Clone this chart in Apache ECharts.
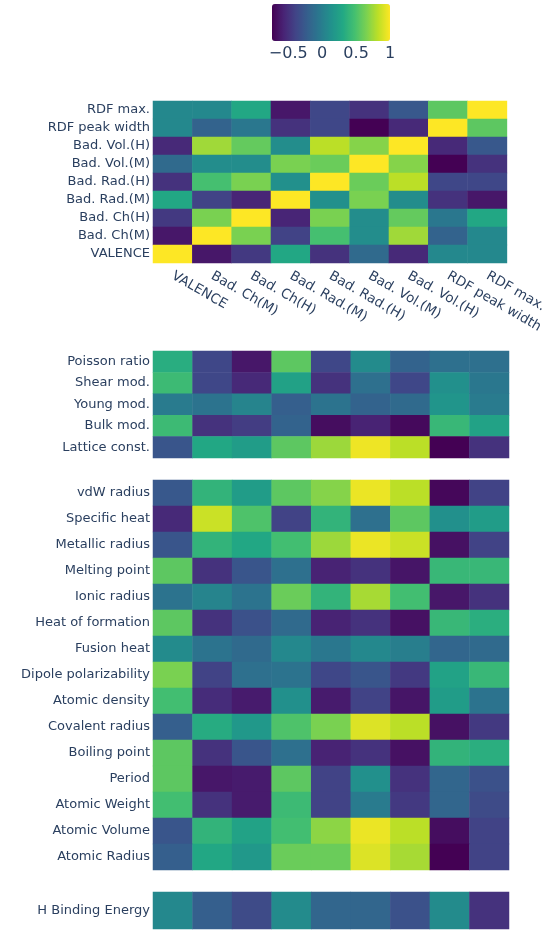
<!DOCTYPE html>
<html>
<head>
<meta charset="utf-8">
<script src="https://cdn.jsdelivr.net/npm/echarts@6/dist/echarts.min.js"></script>
<style>
  html, body { margin: 0; padding: 0; background: #fff; }
  #chart { width: 550px; height: 932px; }
</style>
</head>
<body>
<div id="chart"></div>
<script>
// Correlation features (columns shared by every panel)
const columns = ['VALENCE', 'Bad. Ch(M)', 'Bad. Ch(H)', 'Bad. Rad.(M)', 'Bad. Rad.(H)',
                 'Bad. Vol.(M)', 'Bad. Vol.(H)', 'RDF peak width', 'RDF max.'];

// Panel 1: descriptor vs descriptor (rows listed top to bottom)
const descRows = ['RDF max.', 'RDF peak width', 'Bad. Vol.(H)', 'Bad. Vol.(M)', 'Bad. Rad.(H)',
                  'Bad. Rad.(M)', 'Bad. Ch(H)', 'Bad. Ch(M)', 'VALENCE'];
const descValues = [
  [0.07, 0.07, 0.30, -0.63, -0.37, -0.49, -0.26, 0.56, 1],
  [0.07, -0.19, -0.05, -0.49, -0.37, -0.74, -0.54, 1, 0.56],
  [-0.54, 0.75, 0.58, 0.10, 0.82, 0.68, 1, -0.54, -0.26],
  [-0.14, 0.10, 0.10, 0.65, 0.60, 1, 0.68, -0.74, -0.49],
  [-0.49, 0.48, 0.65, 0.12, 1, 0.60, 0.82, -0.37, -0.37],
  [0.30, -0.40, -0.56, 1, 0.12, 0.65, 0.10, -0.49, -0.63],
  [-0.45, 0.65, 1, -0.56, 0.65, 0.10, 0.58, -0.05, 0.30],
  [-0.63, 1, 0.65, -0.40, 0.48, 0.10, 0.75, -0.19, 0.07],
  [1, -0.63, -0.45, 0.30, -0.49, -0.14, -0.54, 0.07, 0.07]
];

// Panel 2: mechanical properties
const mechRows = ['Poisson ratio', 'Shear mod.', 'Young mod.', 'Bulk mod.', 'Lattice const.'];
const mechValues = [
  [0.34, -0.37, -0.63, 0.56, -0.37, 0.09, -0.19, -0.10, -0.10],
  [0.44, -0.37, -0.54, 0.25, -0.49, -0.10, -0.37, 0.12, -0.05],
  [-0.02, -0.08, 0.04, -0.22, -0.08, -0.19, -0.14, 0.16, -0.02],
  [0.44, -0.49, -0.43, -0.19, -0.68, -0.57, -0.70, 0.42, 0.26],
  [-0.28, 0.30, 0.21, 0.56, 0.74, 0.96, 0.82, -0.74, -0.49]
];

// Panel 3: elemental properties
const elemRows = ['vdW radius', 'Specific heat', 'Metallic radius', 'Melting point', 'Ionic radius',
                  'Heat of formation', 'Fusion heat', 'Dipole polarizability', 'Atomic density',
                  'Covalent radius', 'Boiling point', 'Period', 'Atomic Weight', 'Atomic Volume',
                  'Atomic Radius'];
const elemValues = [
  [-0.26, 0.39, 0.21, 0.56, 0.68, 0.95, 0.82, -0.71, -0.40],
  [-0.54, 0.86, 0.51, -0.40, 0.39, -0.10, 0.56, 0.12, 0.21],
  [-0.28, 0.39, 0.30, 0.47, 0.74, 0.95, 0.86, -0.66, -0.40],
  [0.56, -0.49, -0.28, -0.10, -0.57, -0.49, -0.64, 0.42, 0.42],
  [-0.08, 0.04, -0.08, 0.60, 0.39, 0.77, 0.47, -0.63, -0.49],
  [0.56, -0.49, -0.31, -0.14, -0.57, -0.49, -0.66, 0.42, 0.35],
  [0.09, -0.08, -0.14, 0.07, -0.05, 0.07, 0.00, -0.17, -0.14],
  [0.65, -0.40, -0.10, -0.08, -0.37, -0.28, -0.45, 0.26, 0.42],
  [0.47, -0.52, -0.61, 0.12, -0.61, -0.40, -0.64, 0.21, -0.08],
  [-0.22, 0.33, 0.18, 0.51, 0.65, 0.91, 0.82, -0.66, -0.45],
  [0.56, -0.49, -0.28, -0.10, -0.57, -0.49, -0.66, 0.39, 0.35],
  [0.56, -0.63, -0.61, 0.56, -0.40, 0.12, -0.49, -0.17, -0.31],
  [0.47, -0.49, -0.61, 0.44, -0.40, -0.02, -0.45, -0.17, -0.35],
  [-0.28, 0.39, 0.26, 0.47, 0.70, 0.95, 0.82, -0.68, -0.40],
  [-0.22, 0.30, 0.18, 0.60, 0.60, 0.91, 0.77, -0.74, -0.40]
];

// Panel 4: target
const targetRows = ['H Binding Energy'];
const targetValues = [
  [0.07, -0.22, -0.35, 0.09, -0.17, -0.17, -0.31, 0.09, -0.49]
];

// Colour bar
const colorMin = -0.74;
const colorMax = 1;
const colorTicks = [-0.5, 0, 0.5, 1];
const viridis = ['#440154', '#482475', '#414487', '#355f8d', '#2a788e', '#21918c',
                 '#22a884', '#44bf70', '#7ad151', '#bddf26', '#fde725'];

const panels = [
  { rows: descRows,   values: descValues,   top: 101, height: 162 },
  { rows: mechRows,   values: mechValues,   top: 351, height: 107 },
  { rows: elemRows,   values: elemValues,   top: 480, height: 390 },
  { rows: targetRows, values: targetValues, top: 892, height: 37 }
];

const FONT = 'DejaVu Sans';
const TEXT = '#2a3f5f';
const LEFT = 153, WIDTH = 356;

const grids = [], xAxes = [], yAxes = [], series = [];
panels.forEach((p, i) => {
  grids.push({ left: LEFT, width: WIDTH, top: p.top, height: p.height });
  xAxes.push({
    type: 'category', data: columns, gridIndex: i,
    axisLine: { show: false }, axisTick: { show: false }, splitLine: { show: false },
    axisLabel: {
      show: i === 0, rotate: -30, interval: 0, margin: 12,
      fontFamily: FONT, fontSize: 13.5, color: TEXT
    }
  });
  yAxes.push({
    type: 'category', data: p.rows, gridIndex: i, inverse: true,
    axisLine: { show: false }, axisTick: { show: false }, splitLine: { show: false },
    axisLabel: { interval: 0, margin: 3, fontFamily: FONT, fontSize: 13, color: TEXT }
  });
  const data = [];
  p.values.forEach((row, r) => row.forEach((v, c) => data.push([c, r, v])));
  series.push({
    type: 'heatmap', xAxisIndex: i, yAxisIndex: i, data: data,
    itemStyle: { borderWidth: 0 }, emphasis: { disabled: true }
  });
});

// Grid that only carries the colour-bar tick labels
grids.push({ left: 272, width: 118, top: 4, height: 37 });
xAxes.push({
  type: 'value', gridIndex: 4, min: colorMin, max: colorMax,
  axisLine: { show: false }, axisTick: { show: false }, splitLine: { show: false },
  axisLabel: {
    customValues: colorTicks, margin: 5, fontFamily: FONT, fontSize: 16, color: TEXT,
    formatter: v => String(v).replace('-', '\u2212')
  }
});
yAxes.push({ type: 'value', gridIndex: 4, show: false, min: 0, max: 1 });

const chart = echarts.init(document.getElementById('chart'), null, { renderer: 'canvas' });
chart.setOption({
  backgroundColor: '#fff',
  animation: false,
  grid: grids,
  xAxis: xAxes,
  yAxis: yAxes,
  visualMap: {
    type: 'continuous', min: colorMin, max: colorMax,
    seriesIndex: [0, 1, 2, 3],
    orient: 'horizontal', left: 272, top: 4, padding: 0,
    itemWidth: 37, itemHeight: 118,
    calculable: false, realtime: false, hoverLink: false,
    text: null, showLabel: false,
    inRange: { color: viridis }
  },
  series: series
});
</script>
</body>
</html>
